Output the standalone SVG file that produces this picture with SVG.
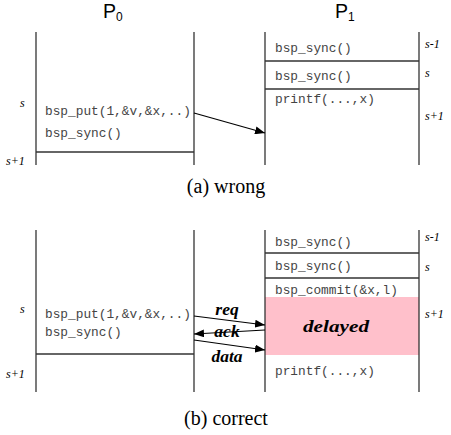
<svg xmlns="http://www.w3.org/2000/svg" width="451" height="435" viewBox="0 0 451 435">
<style>
.ln{stroke:#333;stroke-width:1.3;fill:none}
.ar{stroke:#000;stroke-width:1.2;fill:none}
.mono{font-family:'Liberation Mono','Courier New','DejaVu Sans Mono',monospace;font-size:12.8px;fill:#444}
.lab{font-family:'Liberation Serif','Times New Roman','DejaVu Serif',serif;font-style:italic;font-size:12px;fill:#000}
.msg{font-family:'Liberation Serif','Times New Roman','DejaVu Serif',serif;font-style:italic;font-weight:bold;font-size:17.5px;fill:#000}
.cap{font-family:'Liberation Serif','Times New Roman','DejaVu Serif',serif;font-size:20px;fill:#000}
.hd{font-family:'Liberation Sans',Arial,sans-serif;font-size:19.5px;fill:#000}
.sub{font-size:12px}
</style>
<defs>
<marker id="ah" markerWidth="10" markerHeight="8" refX="10" refY="4" orient="auto" markerUnits="userSpaceOnUse">
<path d="M0,0 L10,4 L0,8 Z" fill="#000"/>
</marker>
</defs>
<text class="hd" x="103" y="18">P<tspan class="sub" dy="3">0</tspan></text>
<text class="hd" x="335" y="18">P<tspan class="sub" dy="3">1</tspan></text>

<g id="a-p0">
<line class="ln" x1="36" y1="32" x2="36" y2="165"/>
<line class="ln" x1="194" y1="32" x2="194" y2="165"/>
<line class="ln" x1="36" y1="152" x2="194" y2="152"/>
<text class="mono" x="45" y="115">bsp_put(1,&amp;v,&amp;x,..)</text>
<text class="mono" x="45" y="137">bsp_sync()</text>
<text class="lab" x="20" y="107">s</text>
<text class="lab" x="6" y="165">s+1</text>
</g>
<g id="a-p1">
<line class="ln" x1="265" y1="32" x2="265" y2="165"/>
<line class="ln" x1="419" y1="32" x2="419" y2="165"/>
<line class="ln" x1="265" y1="61" x2="419" y2="61"/>
<line class="ln" x1="265" y1="89" x2="419" y2="89"/>
<text class="mono" x="275" y="52">bsp_sync()</text>
<text class="mono" x="275" y="80">bsp_sync()</text>
<text class="mono" x="275" y="103">printf(...,x)</text>
<text class="lab" x="425" y="48">s-1</text>
<text class="lab" x="425" y="77">s</text>
<text class="lab" x="425" y="120">s+1</text>
</g>
<g id="a-conn">
<line class="ar" x1="194" y1="113" x2="265" y2="133" marker-end="url(#ah)"/>
</g>
<text class="cap" x="226" y="193" text-anchor="middle">(a) wrong</text>

<g id="b-p0">
<line class="ln" x1="36" y1="230" x2="36" y2="392"/>
<line class="ln" x1="194" y1="230" x2="194" y2="392"/>
<line class="ln" x1="36" y1="354" x2="194" y2="354"/>
<text class="mono" x="45" y="318">bsp_put(1,&amp;v,&amp;x,..)</text>
<text class="mono" x="45" y="336">bsp_sync()</text>
<text class="lab" x="20" y="313">s</text>
<text class="lab" x="6" y="378">s+1</text>
</g>
<g id="b-p1">
<rect x="265" y="297" width="154" height="58" fill="#ffc0cb"/>
<line class="ln" x1="265" y1="230" x2="265" y2="392"/>
<line class="ln" x1="419" y1="230" x2="419" y2="392"/>
<line class="ln" x1="265" y1="253" x2="419" y2="253"/>
<line class="ln" x1="265" y1="278" x2="419" y2="278"/>
<text class="mono" x="275" y="246">bsp_sync()</text>
<text class="mono" x="275" y="270">bsp_sync()</text>
<text class="mono" x="275" y="294">bsp_commit(&amp;x,l)</text>
<text class="mono" x="275" y="375">printf(...,x)</text>
<text class="msg" x="303" y="332" font-size="20" textLength="66" lengthAdjust="spacingAndGlyphs">delayed</text>
<text class="lab" x="425" y="241">s-1</text>
<text class="lab" x="425" y="271">s</text>
<text class="lab" x="425" y="318">s+1</text>
</g>
<g id="b-conn">
<line class="ar" x1="194" y1="316" x2="265" y2="325" marker-end="url(#ah)"/>
<line class="ar" x1="265" y1="330" x2="194" y2="334" marker-end="url(#ah)"/>
<line class="ar" x1="194" y1="340" x2="265" y2="350" marker-end="url(#ah)"/>
<text class="msg" x="227" y="315" text-anchor="middle">req</text>
<text class="msg" x="227" y="337" text-anchor="middle">ack</text>
<text class="msg" x="227" y="362" text-anchor="middle">data</text>
</g>
<text class="cap" x="226" y="425" text-anchor="middle">(b) correct</text>
</svg>
